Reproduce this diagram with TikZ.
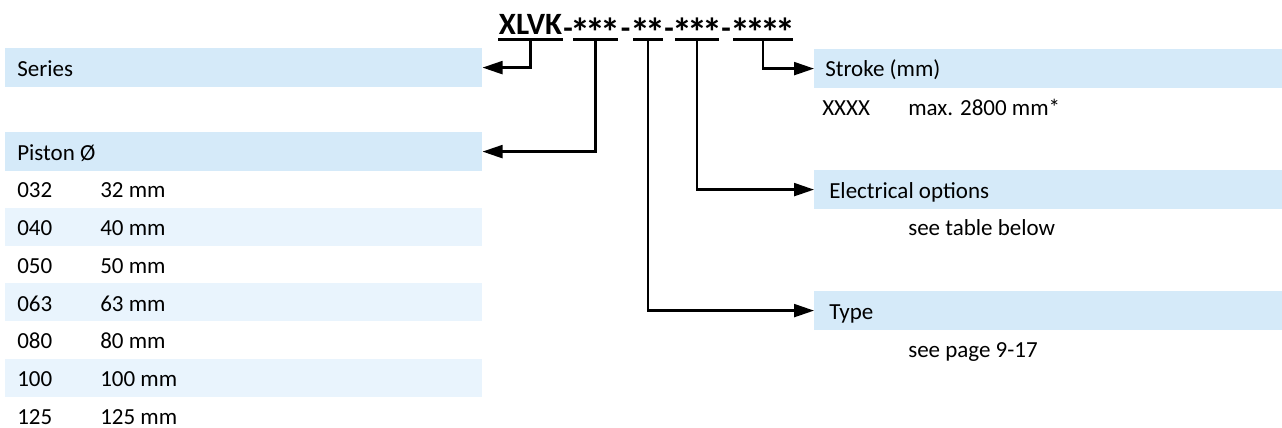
\documentclass[tikz,border=0pt]{standalone}
\usepackage{fontspec}
\setmainfont{Carlito}
\usetikzlibrary{arrows.meta}
\definecolor{hdr}{RGB}{213,234,249}
\definecolor{alt}{RGB}{233,244,253}
\newsavebox\akbox
\sbox\akbox{\fontsize{30pt}{34pt}\bfseries\selectfont *}
\newcommand\ak{\makebox[11.25pt][c]{\raisebox{\dimexpr 12.9pt-\ht\akbox\relax}{\usebox\akbox}}}
\newcommand\dsh{\raisebox{-2.5pt}{-}}
\begin{document}
\begin{tikzpicture}[x=0.75pt,y=-0.75pt,
  txt/.style={anchor=base west, inner sep=0pt, font=\fontsize{17.25pt}{20pt}\selectfont},
  band/.style={anchor=north west, inner sep=0pt, fill=hdr, minimum height=29pt},
  rowband/.style={anchor=north west, inner sep=0pt, fill=alt, minimum height=28.3pt, minimum width=357.75pt},
  grp/.style={anchor=base, inner sep=0pt, text depth=3pt, font=\fontsize{23.25pt}{28pt}\bfseries\selectfont},
  uline/.style={line width=2pt},
  conn/.style={line width=1.7pt, -{Triangle[length=15pt,width=9.75pt]}}
]
\useasboundingbox (0,0) rectangle (1282,428);

% header bands and shaded rows
\node[band, minimum width=357.75pt] (series) at (5,48) {};
\node[band, minimum width=357.75pt] (piston) at (5,132) {};
\node[rowband] (r040) at (5,207.5) {};
\node[rowband] (r063) at (5,283) {};
\node[rowband] (r100) at (5,358.5) {};
\node[band, minimum width=351pt] (stroke) at (814,49) {};
\node[band, minimum width=351pt] (elec) at (814,170) {};
\node[band, minimum width=351pt] (type) at (814,291) {};

% left texts
\node[txt] (tseries) at (17,76.5) {Series};
\node[txt] (tpiston) at (17,160) {Piston Ø};
\node[txt] (c032) at (17,197.75) {032};  \node[txt] (m032) at (100,197.75) {32 mm};
\node[txt] (c040) at (17,235.5) {040};   \node[txt] (m040) at (100,235.5) {40 mm};
\node[txt] (c050) at (17,273.25) {050};  \node[txt] (m050) at (100,273.25) {50 mm};
\node[txt] (c063) at (17,311) {063};     \node[txt] (m063) at (100,311) {63 mm};
\node[txt] (c080) at (17,348.75) {080};  \node[txt] (m080) at (100,348.75) {80 mm};
\node[txt] (c100) at (17,386.5) {100};   \node[txt] (m100) at (100,386.5) {100 mm};
\node[txt] (c125) at (17,424.25) {125};  \node[txt] (m125) at (100,424.25) {125 mm};

% right texts
\node[txt] (tstroke) at (825,76.5) {Stroke (mm)};
\node[txt] (xxxx) at (822,115) {XXXX};
\node[txt] (tmax) at (908,115) {max. 2800 mm*};
\node[txt] (telec) at (829,198) {Electrical options};
\node[txt] (ttable) at (908,235.5) {see table below};
\node[txt] (ttype) at (829,319) {Type};
\node[txt] (tpage) at (908,357) {see page 9-17};

% order code
\node[grp] (g1) at (530.5,35) {XLVK};
\node[grp] (g2) at (595.5,35) {\ak\ak\ak};
\node[grp] (g3) at (648,35) {\ak\ak};
\node[grp] (g4) at (697,35) {\ak\ak\ak};
\node[grp] (g5) at (763,35) {\ak\ak\ak\ak};
\node[grp] (d1) at (568,35) {\dsh};
\node[grp] (d2) at (625.5,35) {\dsh};
\node[grp] (d3) at (669,35) {\dsh};
\node[grp] (d4) at (726,35) {\dsh};
\draw[uline] (g1.south) ++(-32.5,0) -- ++(65,0);
\draw[uline] (g2.south) ++(-22.5,0) -- ++(45,0);
\draw[uline] (g3.south) ++(-15,0) -- ++(30,0);
\draw[uline] (g4.south) ++(-22,0) -- ++(44,0);
\draw[uline] (g5.south) ++(-30,0) -- ++(60,0);

% connectors
\draw[conn] (g1.south) |- (series.east);
\draw[conn] (g2.south) |- (piston.east);
\draw[conn] (g3.south) |- (type.west);
\draw[conn] (g4.south) |- (elec.west);
\draw[conn] (g5.south) |- (stroke.west);
\end{tikzpicture}
\end{document}
